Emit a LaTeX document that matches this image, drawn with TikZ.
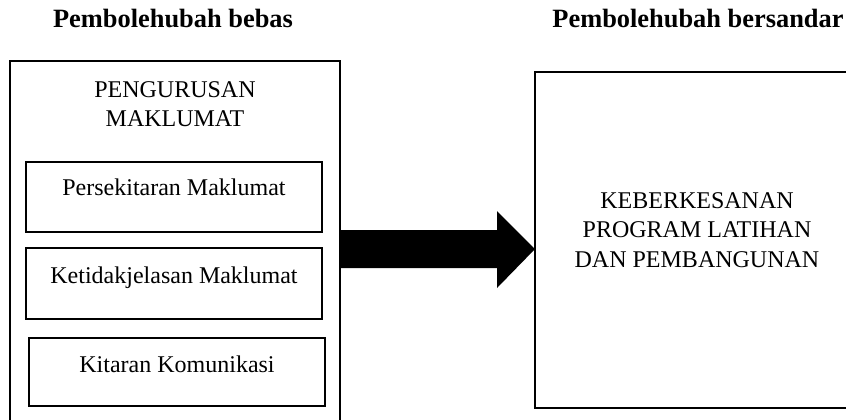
\documentclass[tikz,border=0pt]{standalone}
\usepackage{fontspec}
\setmainfont{Liberation Serif}
\begin{document}
\begin{tikzpicture}[x=0.5pt, y=-0.5pt, every node/.style={font=\fontsize{12}{14.6}\selectfont, inner sep=0pt, outer sep=0pt}]
\tikzset{kotak/.style={draw=black, line width=0.9pt, rectangle, anchor=north west},
  tajuk/.style={font=\fontsize{13.2}{15.8}\selectfont\bfseries, anchor=base}}
\useasboundingbox (0,0) rectangle (846,419);
\clip (0,0) rectangle (846,419);
% tajuk
\node[tajuk] (bebas) at (173,27) {Pembolehubah bebas};
\node[tajuk] (bersandar) at (698,27) {Pembolehubah bersandar};
% kotak kiri
\node[kotak, minimum width=165pt, minimum height=190pt] (pengurusan) at (10,61) {};
\node[align=center] (judulpengurusan) at (175,104) {PENGURUSAN\\MAKLUMAT};
\node[kotak, minimum width=148pt, minimum height=35pt] (persekitaran) at (26,162) {};
\node[anchor=base] at (174,195) (tekspersekitaran) {Persekitaran Maklumat};
\node[kotak, minimum width=148pt, minimum height=35.5pt] (ketidakjelasan) at (26,248) {};
\node[anchor=base] at (174,283) (teksketidakjelasan) {Ketidakjelasan Maklumat};
\node[kotak, minimum width=148pt, minimum height=34pt] (kitaran) at (29,338) {};
\node[anchor=base] at (177,372) (tekskitaran) {Kitaran Komunikasi};
% kotak kanan
\node[kotak, minimum width=162pt, minimum height=168pt] (keberkesanan) at (535,72) {};
\node[align=center] (judulkeberkesanan) at (697,230) {KEBERKESANAN\\PROGRAM LATIHAN\\DAN PEMBANGUNAN};
% anak panah
\fill[black] (pengurusan.east |- 0,230) -- (497,230) -- (497,211) -- (keberkesanan.west |- 0,249)
  -- (497,288) -- (497,268) -- (pengurusan.east |- 0,268) -- cycle;
\end{tikzpicture}
\end{document}
